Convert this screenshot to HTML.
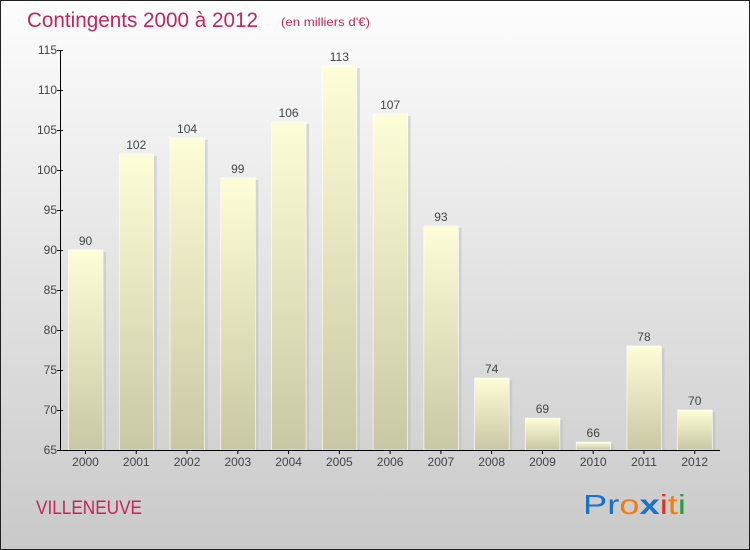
<!DOCTYPE html>
<html><head><meta charset="utf-8"><style>
body{margin:0}
svg{display:block}
text{font-family:"Liberation Sans","DejaVu Sans",sans-serif}
</style></head><body>
<svg width="750" height="550" viewBox="0 0 750 550" xmlns="http://www.w3.org/2000/svg">
<defs>
<linearGradient id="bg" x1="0" y1="0" x2="0" y2="1"><stop offset="0" stop-color="#fdfdfd"/><stop offset="1" stop-color="#c9c9c9"/></linearGradient>
</defs>
<rect x="0.5" y="0.5" width="749" height="549" fill="url(#bg)" stroke="#222"/>
<text x="27" y="27" font-size="21" fill="#c0265a" textLength="231" lengthAdjust="spacingAndGlyphs">Contingents 2000 à 2012</text>
<text x="281" y="26" font-size="12" fill="#c0265a" textLength="89" lengthAdjust="spacingAndGlyphs">(en milliers d'€)</text>
<g id="bars"></g>
<line x1="60.5" y1="50" x2="60.5" y2="450" stroke="#000"/>
<line x1="60" y1="450.5" x2="720" y2="450.5" stroke="#000"/>
<g font-size="12" fill="#444" text-anchor="end" id="yt"></g>
<g font-size="12" fill="#444" text-anchor="middle" id="xt"></g>
<text x="36" y="514" font-size="19" fill="#c0265a" textLength="106" lengthAdjust="spacingAndGlyphs">VILLENEUVE</text>
<text x="583" y="514" font-size="28" textLength="103" lengthAdjust="spacingAndGlyphs"><tspan fill="#1a73c8">Pr</tspan><tspan fill="#f07d10">o</tspan><tspan fill="#1a73c8" font-weight="bold">x</tspan><tspan fill="#e03020">i</tspan><tspan fill="#f07d10">t</tspan><tspan fill="#2a9a3a">i</tspan></text>
<script>
var v=[90,102,104,99,106,113,107,93,74,69,66,78,70],ns="http://www.w3.org/2000/svg";
function el(n,a,t){var e=document.createElementNS(ns,n);for(var k in a)e.setAttribute(k,a[k]);if(t!=null)e.textContent=t;return e}
var b=document.getElementById('bars'),yt=document.getElementById('yt'),xt=document.getElementById('xt');
function Y(x){return 450-(x-65)*8}
for(var i=0;i<13;i++){var x=60+50.77*i+8.5,y=Y(v[i]);
var g=el('linearGradient',{id:'g'+i,x1:0,y1:y,x2:0,y2:450,gradientUnits:'userSpaceOnUse'});
g.appendChild(el('stop',{offset:0,'stop-color':'#fdfdd8'}));g.appendChild(el('stop',{offset:1,'stop-color':'#c8c8a4'}));
document.querySelector('defs').appendChild(g);
b.appendChild(el('rect',{x:x+34.5,y:y+2,width:3,height:450-y-2,fill:'#bbb',opacity:0.5}));
b.appendChild(el('rect',{x:x,y:y,width:34.5,height:450-y,fill:'url(#g'+i+')',stroke:'#fff','stroke-width':0.6}));
b.appendChild(el('text',{x:x+17,y:y-5,'font-size':12,fill:'#444','text-anchor':'middle'},v[i]));
xt.appendChild(el('line',{x1:x+17,y1:450,x2:x+17,y2:454,stroke:'#000'}));
xt.appendChild(el('text',{x:x+17,y:466},2000+i));}
for(var t=65;t<=115;t+=5){var y=Y(t);yt.appendChild(el('text',{x:57,y:y+4},t));yt.appendChild(el('line',{x1:57,y1:y+.5,x2:63,y2:y+.5,stroke:'#000'}));}
</script>
</svg>
</body></html>
